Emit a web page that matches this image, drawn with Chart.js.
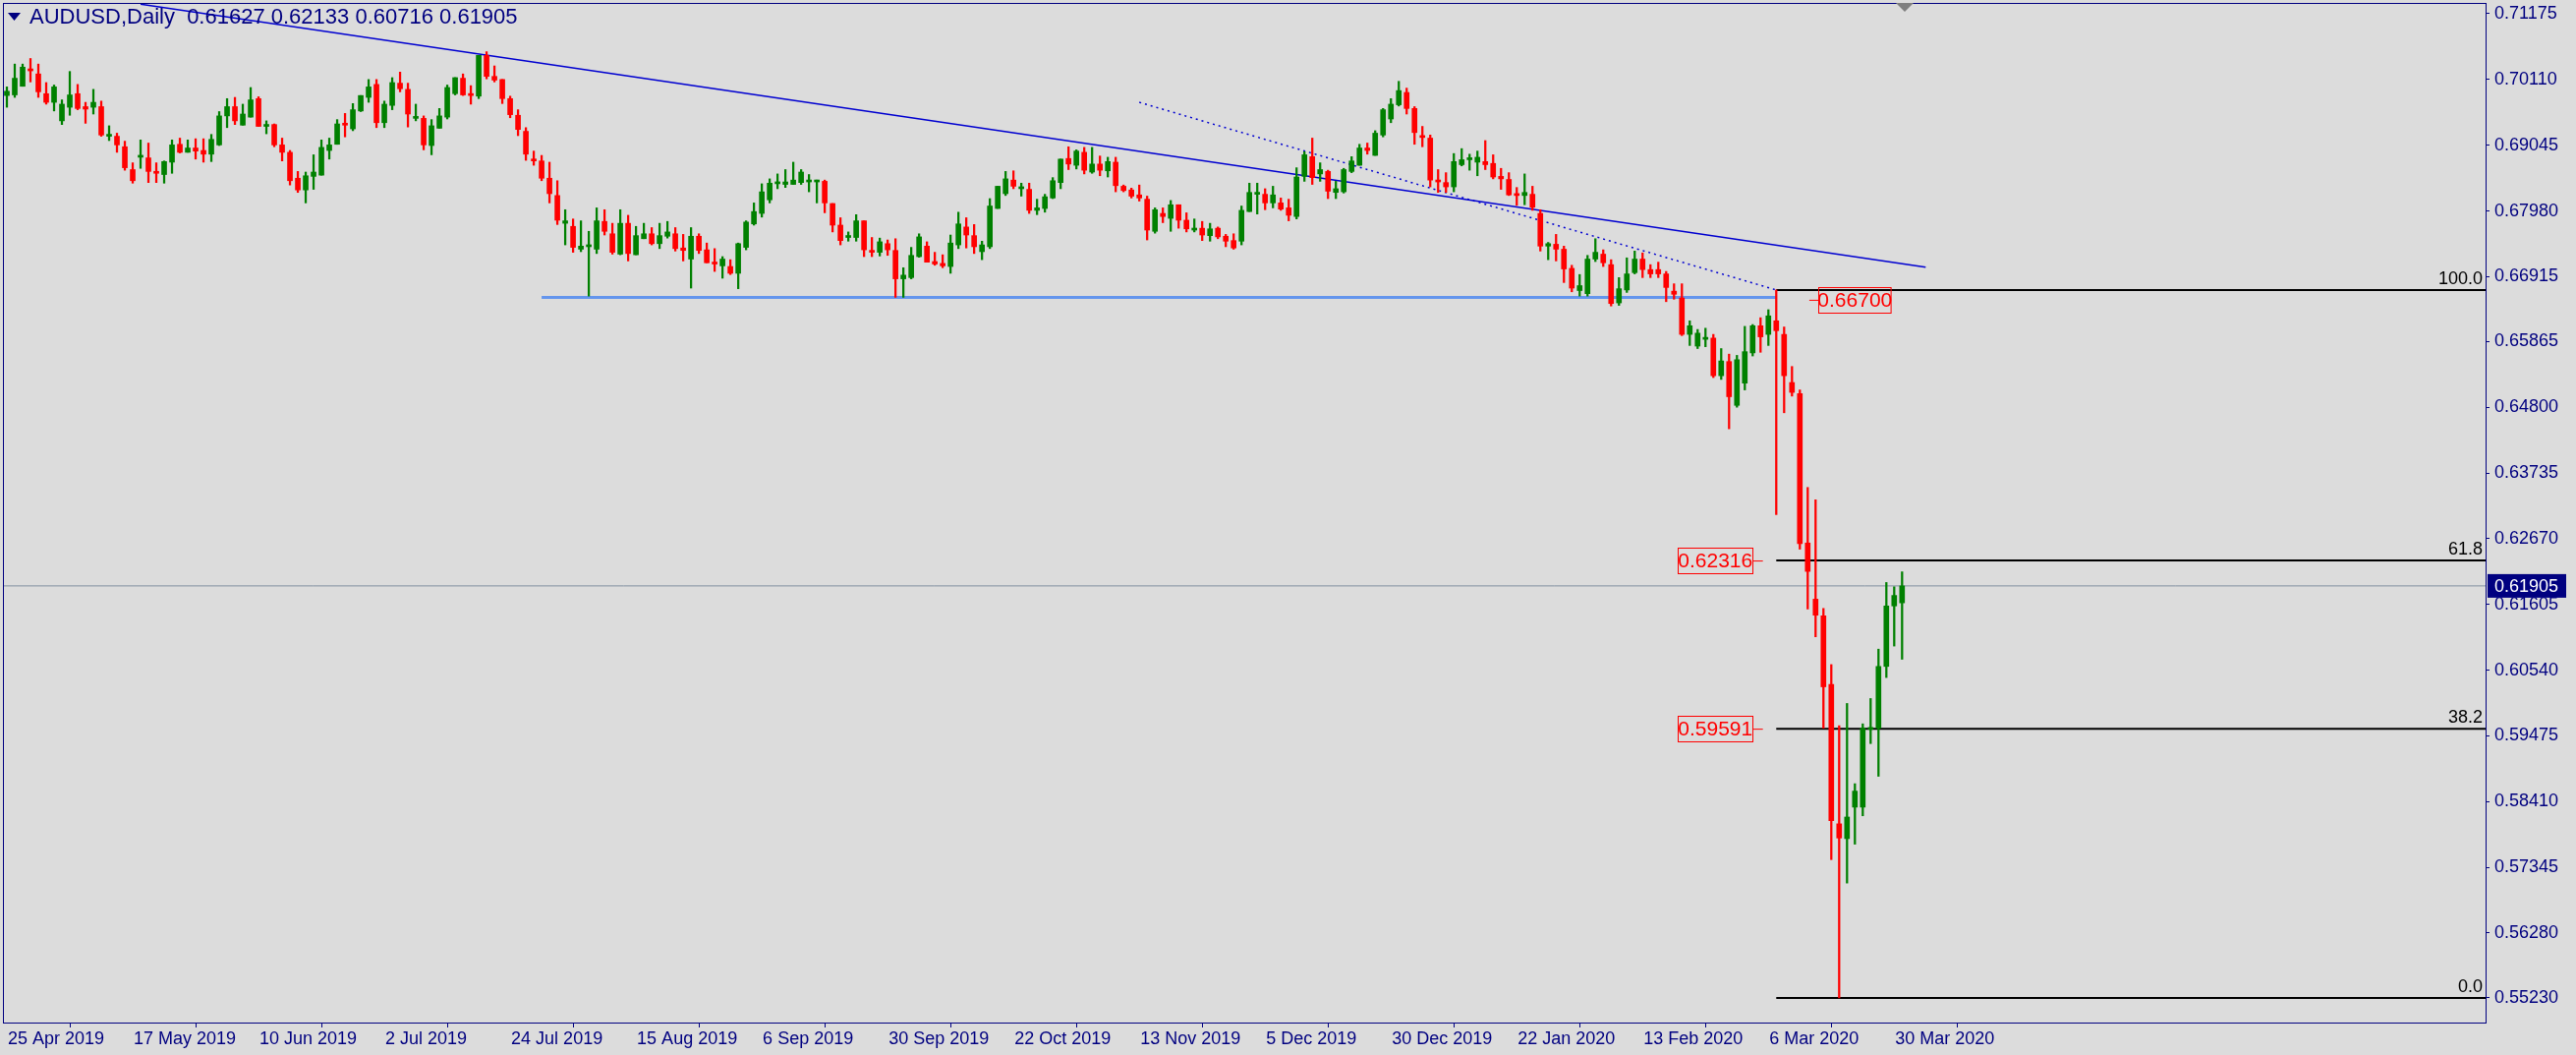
<!DOCTYPE html>
<html>
<head>
<meta charset="utf-8">
<script src="https://cdn.jsdelivr.net/npm/chart.js@4.4.1/dist/chart.umd.min.js"></script>
<style>
  html, body { margin: 0; padding: 0; background: #dcdcdc; }
  #wrap { width: 2621px; height: 1073px; }
</style>
</head>
<body>
<div id="wrap"><canvas id="chart"></canvas></div>
<script>
// AUDUSD daily candles, prices in pips (x 0.0001)
const opens = [
  6985,6986,7000,7028,7020,6988,6974,6944,6966,6988, 6967,6966,6967,6919,6919,6902,6865,6885,6884,6860,
  6857,6877,6906,6893,6900,6896,6890,6905,6952,6967, 6937,6950,6980,6935,6938,6905,6893,6851,6832,6854,
  6856,6896,6906,6938,6931,6960,6982,7003,6941,6969, 7005,6995,6948,6948,6904,6932,6950,6988,7013,6987,
  6984,7050,7016,7011,6980,6953,6927,6882,6879,6851, 6823,6778,6773,6736,6740,6736,6781,6761,6728,6778,
  6727,6753,6761,6745,6757,6761,6738,6720,6757,6735, 6715,6709,6708,6697,6739,6777,6794,6816,6842,6841,
  6841,6844,6845,6845,6846,6810,6775,6755,6755,6782, 6734,6731,6745,6734,6688,6690,6724,6741,6716,6713,
  6708,6743,6772,6758,6732,6740,6802,6826,6848,6834, 6833,6799,6802,6819,6844,6883,6872,6893,6861,6874,
  6863,6877,6838,6832,6824,6817,6765,6794,6786,6808, 6783,6767,6770,6758,6770,6757,6750,6749,6797,6825,
  6825,6811,6811,6803,6789,6854,6886,6858,6862,6828, 6829,6862,6872,6900,6888,6921,6947,6970,6990,6964,
  6918,6916,6848,6844,6837,6873,6881,6877,6878,6875, 6854,6849,6824,6823,6825,6794,6741,6744,6736,6705,
  6669,6664,6720,6728,6711,6649,6670,6698,6720,6703, 6703,6696,6668,6657,6598,6579,6590,6592,6531,6554,
  6483,6519,6568,6612,6598,6620,6598,6520,6502,6260, 6169,6142,6031,5805,5781,5832,5832,5958,5960,6060,
  6158,6163
];
const highs = [
  6999,7036,7036,7045,7036,7006,7002,6978,7024,7003, 6974,6995,6976,6936,6924,6911,6876,6913,6908,6876,
  6879,6913,6916,6913,6915,6915,6922,6959,6980,6982, 6971,6998,6983,6944,6939,6916,6896,6862,6861,6889,
  6913,6916,6946,6956,6972,6985,7011,7011,6976,7014, 7023,7005,6971,6952,6946,6964,7002,7014,7020,7001,
  7050,7056,7033,7011,6984,6962,6933,6895,6888,6877, 6847,6800,6785,6782,6765,6803,6800,6778,6800,6791,
  6773,6778,6771,6778,6781,6771,6760,6771,6761,6746, 6737,6724,6719,6746,6782,6811,6842,6850,6858,6865,
  6877,6865,6857,6848,6848,6810,6787,6764,6792,6782, 6755,6754,6751,6753,6706,6739,6761,6748,6731,6727,
  6759,6796,6787,6776,6749,6818,6838,6862,6863,6843, 6843,6817,6825,6852,6882,6902,6897,6901,6901,6887,
  6885,6885,6840,6835,6840,6822,6803,6803,6815,6808, 6795,6785,6781,6778,6772,6760,6761,6806,6843,6843,
  6834,6838,6819,6817,6868,6894,6916,6876,6864,6846, 6867,6886,6906,6908,6928,6964,6980,7008,6997,6967,
  6935,6921,6865,6860,6891,6899,6890,6895,6912,6889, 6867,6860,6836,6858,6838,6800,6747,6760,6741,6710,
  6695,6726,6753,6735,6719,6690,6722,6733,6730,6711, 6715,6700,6680,6680,6620,6606,6608,6598,6575,6566,
  6564,6611,6614,6625,6638,6670,6610,6546,6508,6350, 6330,6154,6063,5964,6000,5870,5967,6008,6088,6196,
  6189,6213.3
];
const lows = [
  6966,6982,7000,7007,6982,6971,6960,6938,6953,6962, 6940,6955,6919,6912,6893,6864,6843,6867,6844,6844,
  6843,6859,6892,6893,6882,6877,6878,6904,6933,6938, 6937,6950,6935,6923,6902,6879,6840,6828,6811,6833,
  6856,6882,6906,6918,6928,6959,6974,6933,6933,6962, 6991,6934,6944,6897,6889,6932,6947,6986,6985,6971,
  6980,7012,7007,6972,6949,6920,6880,6872,6847,6811, 6776,6743,6731,6732,6660,6729,6759,6728,6727,6717,
  6727,6753,6743,6737,6754,6733,6717,6673,6729,6714, 6700,6689,6695,6672,6735,6775,6788,6811,6834,6836,
  6841,6841,6829,6811,6795,6764,6743,6749,6749,6724, 6724,6725,6726,6658,6658,6688,6723,6715,6710,6706,
  6697,6737,6738,6729,6719,6737,6802,6823,6834,6822, 6794,6792,6796,6818,6834,6865,6866,6858,6859,6855,
  6853,6829,6829,6819,6814,6751,6762,6779,6765,6770, 6764,6764,6750,6749,6753,6740,6736,6743,6797,6793,
  6800,6803,6799,6782,6785,6846,6841,6846,6818,6818, 6827,6860,6872,6890,6888,6918,6941,6968,6955,6906,
  6902,6837,6828,6828,6829,6871,6864,6855,6865,6850, 6833,6823,6807,6808,6799,6733,6719,6717,6682,6667,
  6660,6660,6716,6708,6644,6645,6666,6696,6690,6690, 6690,6651,6655,6596,6580,6575,6578,6528,6525,6445,
  6480,6508,6563,6569,6580,6306,6471,6498,6250,6153, 6108,5960,5747,5523,5709,5772,5818,5935,5882,6042,
  6093,6071.6
];
const closes = [
  6992,7013,7031,7025,6991,6974,6999,6971,6986,6964, 6963,6974,6921,6921,6905,6868,6847,6888,6862,6859,
  6878,6905,6893,6900,6895,6890,6914,6952,6967,6944, 6955,6978,6935,6938,6905,6893,6847,6832,6855,6861,
  6901,6905,6939,6937,6962,6985,6999,6941,6971,7006, 6996,6955,6951,6905,6936,6952,6998,7014,6986,6985,
  7050,7016,7010,6980,6954,6930,6890,6879,6851,6826, 6783,6782,6739,6741,6742,6782,6765,6731,6778,6729,
  6758,6761,6745,6758,6764,6737,6734,6757,6734,6714, 6712,6720,6697,6745,6780,6797,6829,6843,6843,6845,
  6848,6861,6846,6846,6811,6775,6750,6756,6782,6735, 6731,6748,6735,6688,6694,6726,6756,6715,6712,6709,
  6746,6777,6759,6740,6743,6806,6838,6850,6838,6835, 6799,6803,6821,6847,6882,6874,6895,6864,6874,6864,
  6878,6839,6831,6822,6819,6767,6800,6789,6808,6783, 6769,6768,6759,6769,6756,6749,6738,6799,6828,6828,
  6811,6824,6801,6791,6853,6889,6852,6865,6830,6834, 6865,6879,6900,6896,6924,6962,6971,6993,6964,6925,
  6917,6848,6845,6837,6878,6881,6883,6885,6873,6853, 6850,6824,6823,6828,6804,6741,6745,6736,6704,6673,
  6677,6720,6731,6714,6648,6672,6696,6720,6703,6696, 6696,6674,6663,6598,6612,6600,6592,6531,6555,6497,
  6557,6570,6612,6594,6628,6604,6531,6504,6259,6214, 6143,6027,5810,5782,5816,5858,5960,5960,6060,6158,
  6175,6190.5
];

// x-axis labels every 16 bars
const dateLabels = ['25 Apr 2019','17 May 2019','10 Jun 2019','2 Jul 2019','24 Jul 2019','15 Aug 2019',
  '6 Sep 2019','30 Sep 2019','22 Oct 2019','13 Nov 2019','5 Dec 2019','30 Dec 2019','22 Jan 2020',
  '13 Feb 2020','6 Mar 2020','30 Mar 2020'];
const priceTicks = [0.71175,0.70110,0.69045,0.67980,0.66915,0.65865,0.64800,0.63735,0.62670,
  0.61605,0.60540,0.59475,0.58410,0.57345,0.56280,0.55230];

// drawn objects: [bar, price]
const trendLine = [[17, 0.7133], [244, 0.6707]];
const dottedLine = [[144, 0.6974], [225, 0.6670]];
const supportLine = [[68, 0.6658], [225, 0.6658]];
const fibLevels = [0.66700, 0.62316, 0.59591, 0.55230];
const fibNames = ['100.0', '61.8', '38.2', '0.0'];
const lastPrice = 0.61905;

const XMAX = 315.2;
const GREEN = '#008000', RED = '#ff0000', NAVY = '#000080';
const FONT = '"Liberation Sans", Arial, sans-serif';

const colors = closes.map((c, i) => c >= opens[i] ? GREEN : RED);
const wicks = lows.map((l, i) => ({ x: i, y: [l / 1e4, highs[i] / 1e4] }));
const bodies = opens.map((o, i) => ({ x: i, y: [Math.min(o, closes[i]) / 1e4, Math.max(o, closes[i]) / 1e4] }));
const pts = arr => arr.map(p => ({ x: p[0], y: p[1] }));

const lineDs = (data, color, width, dash) => ({
  type: 'line', data, borderColor: color, borderWidth: width, borderDash: dash || [],
  pointRadius: 0, fill: false, tension: 0, order: 5
});

const datasets = [
  lineDs(pts([[-0.5, lastPrice], [XMAX, lastPrice]]), '#8090a0', 1),
  lineDs(pts(supportLine), '#6495ed', 3),
  lineDs(pts(trendLine), '#0000d0', 1.5),
  lineDs(pts(dottedLine), '#0000d0', 1.5, [2, 4]),
  ...fibLevels.map(v => lineDs(pts([[225, v], [XMAX, v]]), '#000000', 2)),
  { type: 'bar', data: wicks, backgroundColor: colors, barThickness: 1.6, grouped: false, order: 2 },
  { type: 'bar', data: bodies, backgroundColor: colors, barThickness: 5, minBarLength: 2, grouped: false, order: 1 }
];

const overlay = {
  id: 'overlay',
  afterDraw(chart) {
    const { ctx, chartArea: a, scales: { x, y } } = chart;
    ctx.save();
    // plot frame
    ctx.strokeStyle = NAVY; ctx.lineWidth = 1;
    ctx.strokeRect(a.left + 0.5, a.top + 0.5, a.right - a.left, a.bottom - a.top);

    // date labels, text starts at the tick
    ctx.fillStyle = NAVY; ctx.font = '18px ' + FONT;
    ctx.textAlign = 'left'; ctx.textBaseline = 'top';
    dateLabels.forEach((d, i) => ctx.fillText(d, x.getPixelForValue(i * 16) + 1, a.bottom + 8));

    // title
    ctx.beginPath(); ctx.moveTo(8, 13); ctx.lineTo(21, 13); ctx.lineTo(14.5, 21); ctx.fill();
    ctx.font = '22px ' + FONT; ctx.textBaseline = 'middle';
    ctx.fillText('AUDUSD,Daily  0.61627 0.62133 0.60716 0.61905', 30, 18);

    // shift marker
    ctx.fillStyle = '#7f7f7f';
    ctx.beginPath(); ctx.moveTo(1929, 3); ctx.lineTo(1947, 3); ctx.lineTo(1938, 12); ctx.fill();

    // fib level names
    ctx.fillStyle = '#000'; ctx.font = '18px ' + FONT;
    ctx.textAlign = 'right'; ctx.textBaseline = 'bottom';
    fibLevels.forEach((v, i) => ctx.fillText(fibNames[i], a.right - 3, y.getPixelForValue(v) - 2));

    // price boxes
    const box = (label, v, left, right, connTo, below) => {
      const py = y.getPixelForValue(v);
      const l = x.getPixelForValue(left), r = x.getPixelForValue(right);
      const top = below ? py - 3 : py - 13;
      ctx.strokeStyle = RED; ctx.lineWidth = 1;
      ctx.strokeRect(Math.round(l) + 0.5, Math.round(top) + 0.5, r - l, 26);
      ctx.beginPath();
      const cx = x.getPixelForValue(connTo);
      ctx.moveTo(connTo > right ? r : cx, top + 13.5); ctx.lineTo(connTo > right ? cx : l, top + 13.5);
      ctx.stroke();
      ctx.fillStyle = RED; ctx.font = '21px ' + FONT; ctx.textAlign = 'center'; ctx.textBaseline = 'middle';
      ctx.fillText(label, (l + r) / 2, top + 14);
    };
    box('0.66700', fibLevels[0], 230.4, 239.6, 229.2, true);
    box('0.62316', fibLevels[1], 212.5, 222, 223.3, false);
    box('0.59591', fibLevels[2], 212.5, 222, 223.3, false);

    // last price label on axis
    const ly = y.getPixelForValue(lastPrice);
    ctx.fillStyle = NAVY; ctx.fillRect(a.right + 2, ly - 12, 80, 24);
    ctx.fillStyle = '#fff'; ctx.font = '18px ' + FONT; ctx.textAlign = 'left';
    ctx.fillText('0.61905', a.right + 9, ly + 1);
    ctx.restore();
  }
};

new Chart(document.getElementById('chart'), {
  type: 'bar',
  data: { datasets },
  options: {
    responsive: true, maintainAspectRatio: false, animation: false, devicePixelRatio: 1,
    layout: { padding: { left: 3, top: 3, right: 0, bottom: 0 } },
    plugins: { legend: { display: false }, tooltip: { enabled: false } },
    scales: {
      x: {
        type: 'linear', min: -0.5, max: XMAX, offset: false,
        afterBuildTicks: s => { s.ticks = dateLabels.map((_, i) => ({ value: i * 16 })); },
        afterFit: s => { s.height = 33; s.paddingLeft = 0; s.paddingRight = 0; },
        grid: { drawOnChartArea: false, tickLength: 5, color: NAVY },
        border: { color: NAVY },
        ticks: { display: false }
      },
      y: {
        position: 'right', min: 0.5483, max: 0.7135,
        afterBuildTicks: s => { s.ticks = priceTicks.map(v => ({ value: v })); },
        afterFit: s => { s.width = 92; s.paddingTop = 0; s.paddingBottom = 0; },
        grid: { drawOnChartArea: false, tickLength: 4, color: NAVY },
        border: { color: NAVY },
        ticks: { color: NAVY, font: { size: 18, family: FONT }, padding: 5,
          callback: v => v.toFixed(5) }
      }
    }
  },
  plugins: [overlay]
});
</script>
</body>
</html>
